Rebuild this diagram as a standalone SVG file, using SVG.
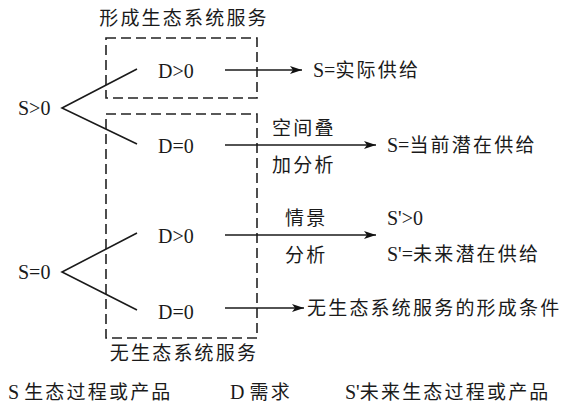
<svg xmlns="http://www.w3.org/2000/svg" width="572" height="404" viewBox="0 0 572 404">
<defs>
<marker id="ah" viewBox="0 0 12 8" refX="12" refY="4" markerWidth="12" markerHeight="8" markerUnits="userSpaceOnUse" orient="auto">
<path d="M0,0 L12,4 L0,8 L3,4 Z" fill="#111"/>
</marker>
<style>
text{font-family:"Liberation Serif","Noto Sans CJK SC",serif;font-size:19px;fill:#1a1a1a;letter-spacing:2.2px}
.lat{letter-spacing:0}
.box{fill:none;stroke:#222;stroke-width:1.6;stroke-dasharray:10 5}
.ln{fill:none;stroke:#1a1a1a;stroke-width:1.6}
.ar{fill:none;stroke:#1a1a1a;stroke-width:1.6;marker-end:url(#ah)}
</style>
</defs>
<rect width="572" height="404" fill="#fff"/>
<g id="boxes">
<rect class="box" x="106" y="38" width="151" height="60"/>
<rect class="box" x="106" y="114" width="151" height="224"/>
<text x="184" y="25" text-anchor="middle">形成生态系统服务</text>
<text x="184" y="360" text-anchor="middle">无生态系统服务</text>
</g>
<g id="s_pos"><text class="lat" x="18" y="115" style="font-size:20px">S&gt;0</text></g>
<g id="s_zero"><text class="lat" x="18" y="279" style="font-size:20px">S=0</text></g>
<g id="d1"><text class="lat" x="158" y="78" style="font-size:20px">D&gt;0</text></g>
<g id="d2"><text class="lat" x="158" y="153" style="font-size:20px">D=0</text></g>
<g id="d3"><text class="lat" x="158" y="243" style="font-size:20px">D&gt;0</text></g>
<g id="d4"><text class="lat" x="158" y="319" style="font-size:20px">D=0</text></g>
<g id="r1"><text x="313" y="77"><tspan class="lat" style="font-size:20px">S=</tspan>实际供给</text></g>
<g id="r2"><text x="387" y="152"><tspan class="lat" style="font-size:20px">S=</tspan>当前潜在供给</text></g>
<g id="r3"><text class="lat" x="387" y="225" style="font-size:20px">S'&gt;0</text>
<text x="387" y="261"><tspan class="lat" style="font-size:20px">S'=</tspan>未来潜在供给</text></g>
<g id="r4"><text x="307" y="315">无生态系统服务的形成条件</text></g>
<g id="connectors">
<path class="ln" d="M137,69 L62,108 L137,144"/>
<path class="ln" d="M137,233 L62,272 L137,310"/>
<line class="ar" x1="225" y1="70" x2="302" y2="70"/>
<line class="ar" x1="225" y1="145" x2="376" y2="145"/>
<line class="ar" x1="225" y1="235" x2="376" y2="235"/>
<line class="ar" x1="225" y1="308" x2="304" y2="308"/>
<text x="272" y="135">空间叠</text>
<text x="272" y="172">加分析</text>
<text x="285" y="225">情景</text>
<text x="285" y="262">分析</text>
</g>
<g id="legend">
<text x="8" y="399"><tspan class="lat" style="font-size:20px">S </tspan>生态过程或产品</text>
<text x="230" y="399"><tspan class="lat" style="font-size:20px">D </tspan>需求</text>
<text x="345" y="399"><tspan class="lat" style="font-size:20px">S'</tspan>未来生态过程或产品</text>
</g>
</svg>
